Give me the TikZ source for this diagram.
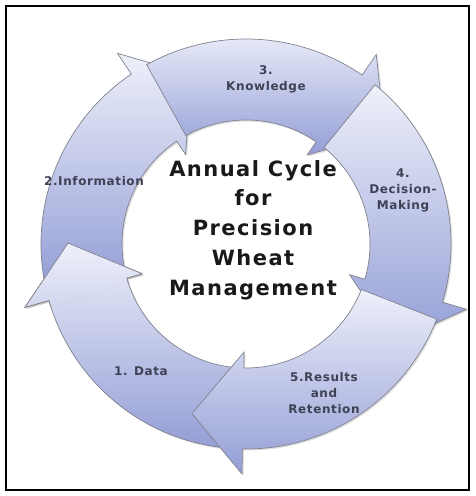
\documentclass[tikz,border=0pt]{standalone}
\usepackage{fontspec}
\setmainfont{DejaVu Sans}
\newfontfamily\titlefont[LetterSpace=7]{DejaVu Sans}
\newfontfamily\stepfont[LetterSpace=5]{DejaVu Sans}
\usetikzlibrary{shadows}
\definecolor{arrowtop}{RGB}{238,240,250}
\definecolor{arrowbot}{RGB}{148,158,214}
\definecolor{arrowline}{RGB}{128,130,142}
\definecolor{labelgray}{RGB}{62,66,84}
\begin{document}
\begin{tikzpicture}[x=1pt, y=1pt,
		cyclearrow/.style={draw=arrowline, line width=0.7pt, top color=arrowtop, bottom color=arrowbot,
			drop shadow={shadow xshift=1.5pt, shadow yshift=-1.5pt, opacity=0.25}},
		steplabel/.style={text=labelgray, align=center, font=\stepfont\bfseries\fontsize{12}{16}\selectfont},
		titlelabel/.style={align=center, text=black!90, font=\titlefont\bfseries\fontsize{21}{29.8}\selectfont}]
	\useasboundingbox (0,0) rectangle (475,496);
	\draw[line width=2.5pt] (6,6) rectangle (469,490);
	\begin{scope}[shift={(246,252)}]
		% tail / base of head / tip, as angles
		\foreach \tl/\bs/\tp in {264.5/196/179.7, 191.5/124/108, 119/55.5/38.8, 51/-16.5/-33.3, -21.5/-91/-107.7}{
			\path[cyclearrow] (\tl:205) arc[start angle=\tl, end angle=\bs, radius=205]
				-- (\bs:230) -- (\tp:178) -- (\bs:108) -- (\bs:124)
				arc[start angle=\bs, end angle=\tl, radius=124] -- cycle;
		}
		% head of the first arrow lies over the tail of the second
		\begin{scope}
			\clip (0,0) -- (176:260) arc[start angle=176, end angle=198, radius=260] -- cycle;
			\path[cyclearrow] (264.5:205) arc[start angle=264.5, end angle=196, radius=205]
				-- (196:230) -- (179.7:178) -- (196:108) -- (196:124)
				arc[start angle=196, end angle=264.5, radius=124] -- cycle;
		\end{scope}
		\node[steplabel] (data) at (-105,-127) {1. Data};
		\node[steplabel] (info) at (-152,63) {2.Information};
		\node[steplabel] (knowledge) at (20,165) {3.\\Knowledge};
		\node[steplabel] (decision) at (157,53.5) {4.\\Decision-\\Making};
		\node[steplabel] (results) at (78,-149.5) {5.Results\\and\\Retention};
		\node[titlelabel] (title) at (7,14) {Annual Cycle\\for\\Precision\\Wheat\\Management};
	\end{scope}
\end{tikzpicture}
\end{document}
